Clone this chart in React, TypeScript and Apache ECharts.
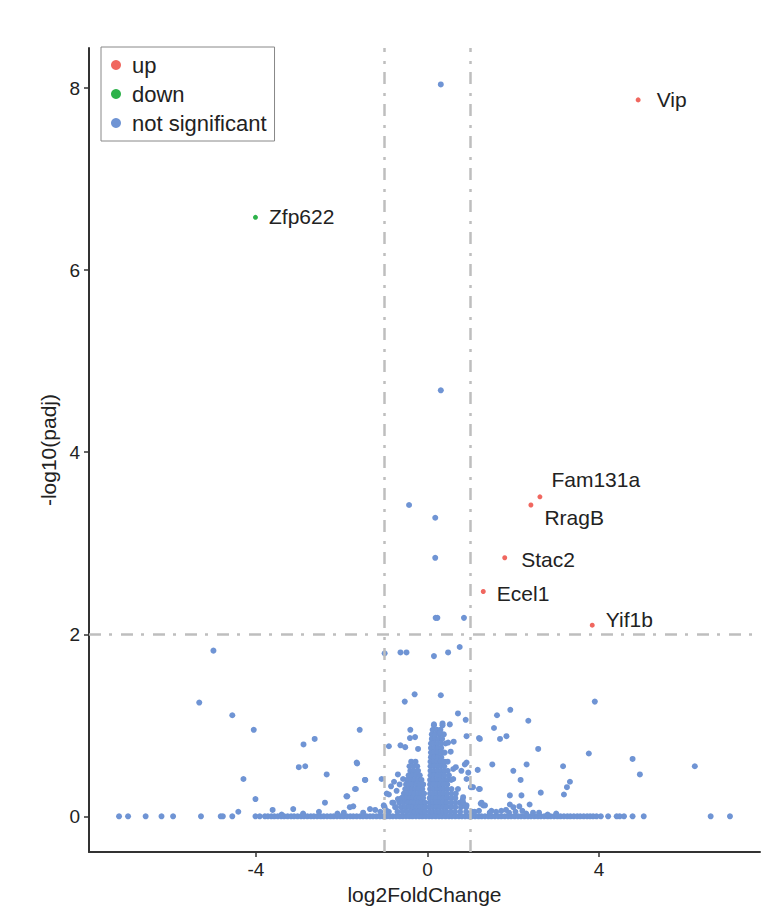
import React, { useEffect, useRef } from 'react';
import * as echarts from 'echarts';

// ---- data ----
const upGenes = ['Vip', 'Fam131a', 'RragB', 'Stac2', 'Ecel1', 'Yif1b'];
const upX = [4.91, 2.62, 2.41, 1.8, 1.3, 3.84];
const upY = [7.87, 3.51, 3.42, 2.84, 2.47, 2.1];

const downGenes = ['Zfp622'];
const downX = [-4.01];
const downY = [6.58];

// scattered not-significant genes [log2FC, -log10(padj)]
const nsScatter: number[][] = [
  [0.31, 8.04], [0.31, 4.68], [-0.43, 3.42], [0.18, 3.28], [0.18, 2.84], [0.19, 2.18], [0.23, 2.18], [0.85, 2.18],
  [-1.0, 1.79], [-0.63, 1.8], [-0.49, 1.8], [0.15, 1.76], [0.48, 1.8], [0.75, 1.86],
  [-4.99, 1.82], [-5.32, 1.25], [-4.55, 1.11], [-4.05, 0.95], [-1.58, 0.95], [-2.89, 0.79], [-2.63, 0.85],
  [-3.0, 0.54], [-2.85, 0.55], [-2.35, 0.46], [-1.65, 0.59], [-1.45, 0.4], [-1.07, 0.41], [-0.9, 0.77],
  [-4.29, 0.41], [-4.01, 0.19], [-4.41, 0.05], [-3.61, 0.07], [-3.13, 0.08], [-2.53, 0.05], [-2.39, 0.15],
  [-1.89, 0.22], [-1.69, 0.3], [-1.73, 0.11], [-0.9, 0.24], [-0.8, 0.15],
  [-0.3, 1.34], [-0.53, 1.26], [0.31, 1.33], [0.71, 1.13], [0.89, 1.06], [1.62, 1.11], [1.93, 1.17], [2.35, 1.05], [3.9, 1.26],
  [-0.4, 0.95], [0.15, 1.01], [0.35, 1.02], [0.52, 1.01], [1.55, 0.97], [1.2, 0.86], [0.91, 0.88], [1.69, 0.85], [1.84, 0.88], [1.22, 0.85],
  [-0.63, 0.78], [-0.52, 0.76], [-0.41, 0.86], [-0.29, 0.87], [-0.22, 0.74], [0.29, 0.92], [0.48, 0.81], [0.61, 0.82], [0.54, 0.71],
  [-1.64, 0.58], [-1.46, 0.4], [-1.67, 0.3], [-1.87, 0.22], [-0.69, 0.46], [-0.57, 0.41], [0.91, 0.59], [0.95, 0.48],
  [1.51, 0.57], [2.0, 0.5], [2.31, 0.57], [2.17, 0.4], [1.92, 0.23], [2.19, 0.23], [1.06, 0.32], [1.26, 0.15],
  [0.6, 0.52], [0.66, 0.54], [0.79, 0.5], [0.87, 0.57], [1.17, 0.51], [1.01, 0.32], [1.2, 0.3], [1.24, 0.14], [1.3, 0.12], [0.8, 0.12],
  [2.58, 0.74], [3.76, 0.69], [4.78, 0.63], [6.23, 0.55], [4.95, 0.46], [3.16, 0.55], [3.32, 0.38], [3.25, 0.32], [3.18, 0.24],
  [2.64, 0.26], [2.38, 0.13], [1.22, 0.3], [1.92, 0.13], [2.0, 0.1], [2.14, 0.11], [2.21, 0.06], [1.34, 0.12],
  [1.49, 0.06], [1.72, 0.06], [1.83, 0.07], [2.46, 0.04],
  [-0.82, 0.15], [-0.69, 0.19], [0.83, 0.15], [0.91, 0.41], [1.03, 0.32], [0.82, 0.18],
  [0.6, 0.41], [0.71, 0.3], [0.83, 0.21], [0.91, 0.12], [1.03, 0.04],
  [-1.02, 0.12], [-0.95, 0.25], [-0.85, 0.33], [-0.78, 0.38], [-0.72, 0.28], [-0.65, 0.35], [-0.75, 0.1], [-0.6, 0.2],
  [-2.1, 0.03], [-1.95, 0.04], [-1.81, 0.1], [-1.5, 0.04], [-1.34, 0.08], [-1.22, 0.07], [-1.1, 0.05], [-1.0, 0.1], [-0.95, 0.06],
  [1.1, 0.05], [1.2, 0.06], [1.45, 0.04], [1.6, 0.05], [1.9, 0.04], [2.05, 0.05], [2.3, 0.03], [2.6, 0.04], [2.8, 0.02],
  [3.0, 0.03], [-2.9, 0.03], [-3.4, 0.02],
];

// genes with padj ~ 1 lying on the zero line
const zeroLineX = [
  -7.19, -6.98, -6.57, -6.2, -5.93, -5.28, -4.82, -4.77, -4.55, -4.01, -3.91,
  -3.79, -3.72, -3.64, -3.57, -3.49, -3.41, -3.34, -3.26, -3.18, -3.11, -3.03, -2.95, -2.88, -2.8, -2.72, -2.65,
  -2.57, -2.49, -2.42, -2.34, -2.26, -2.19, -2.11, -2.03, -1.96, -1.88, -1.8, -1.73, -1.65, -1.57, -1.5, -1.42,
  -1.34, -1.27, -1.19, -1.11, -1.04, -0.96, -0.88, -0.81, -0.73, -0.65, -0.58, -0.5, -0.42, -0.35, -0.27, -0.19,
  -0.12, -0.04, 0.04, 0.11, 0.19, 0.27, 0.34, 0.42, 0.5, 0.57, 0.65, 0.73, 0.8, 0.88, 0.96, 1.03, 1.11, 1.19,
  1.26, 1.34, 1.42, 1.49, 1.57, 1.65, 1.72, 1.8, 1.88, 1.95, 2.03, 2.11, 2.18, 2.26, 2.34, 2.41, 2.49, 2.57,
  2.64, 2.72, 2.8, 2.87, 2.95, 3.03, 3.1, 3.18, 3.26, 3.33, 3.41, 3.49, 3.56, 3.64, 3.72, 3.79, 3.86,
  3.94, 4.04, 4.21, 4.41, 4.48, 4.58, 4.78, 5.04, 6.6, 7.05,
];

// dense column just left of 0: rows of [y, x1, x2, ...]
const leftColumnRows: number[][] = [
  [0.6, -0.38, -0.28],
  [0.55, -0.42, -0.33, -0.24],
  [0.5, -0.4, -0.32, -0.22],
  [0.45, -0.44, -0.36, -0.27, -0.18],
  [0.4, -0.48, -0.38, -0.3, -0.22, -0.14],
  [0.35, -0.5, -0.42, -0.34, -0.26, -0.18, -0.1],
  [0.3, -0.52, -0.44, -0.36, -0.28, -0.2, -0.12],
  [0.25, -0.55, -0.46, -0.38, -0.3, -0.22, -0.14, -0.08],
  [0.2, -0.6, -0.5, -0.42, -0.34, -0.26, -0.18, -0.1],
  [0.15, -0.66, -0.56, -0.46, -0.38, -0.3, -0.22, -0.14, -0.06],
  [0.1, -0.75, -0.62, -0.52, -0.42, -0.34, -0.26, -0.18, -0.1, -0.04],
  [0.05, -0.9, -0.7, -0.58, -0.48, -0.38, -0.3, -0.22, -0.14, -0.06],
];

// dense column just right of 0
const rightColumnRows: number[][] = [
  [1.0, 0.15, 0.35],
  [0.95, 0.12, 0.22, 0.3],
  [0.9, 0.1, 0.18, 0.28, 0.38],
  [0.85, 0.1, 0.18, 0.26, 0.34],
  [0.8, 0.08, 0.16, 0.24, 0.32, 0.42],
  [0.75, 0.08, 0.16, 0.24, 0.32],
  [0.7, 0.08, 0.16, 0.24, 0.32, 0.4],
  [0.65, 0.08, 0.16, 0.24, 0.32],
  [0.6, 0.07, 0.15, 0.23, 0.31, 0.39, 0.47],
  [0.55, 0.07, 0.15, 0.23, 0.31, 0.39],
  [0.5, 0.07, 0.15, 0.23, 0.31, 0.39, 0.47],
  [0.45, 0.07, 0.15, 0.23, 0.31, 0.39, 0.5],
  [0.4, 0.06, 0.14, 0.22, 0.3, 0.38, 0.46, 0.55],
  [0.35, 0.06, 0.14, 0.22, 0.3, 0.38, 0.46],
  [0.3, 0.06, 0.14, 0.22, 0.3, 0.38, 0.46, 0.56],
  [0.25, 0.06, 0.14, 0.22, 0.3, 0.38, 0.46, 0.56, 0.66],
  [0.2, 0.05, 0.13, 0.21, 0.29, 0.37, 0.45, 0.55, 0.65],
  [0.15, 0.05, 0.13, 0.21, 0.29, 0.37, 0.45, 0.55, 0.65, 0.75],
  [0.1, 0.05, 0.13, 0.21, 0.29, 0.37, 0.45, 0.55, 0.65, 0.78, 0.9],
  [0.05, 0.04, 0.12, 0.2, 0.28, 0.36, 0.44, 0.54, 0.64, 0.76, 0.9, 1.05],
];

const xTicks = [-4, 0, 4];
const yTicks = [0, 2, 4, 6, 8];
const fcCutoff = [-1, 1];
const padjCutoff = 2;

// ---- styles ----
const FONT = '"Liberation Sans", Arial, Helvetica, sans-serif';
const RED = '#F0675F';
const GREEN = '#2DB24A';
const BLUE = '#6F94D4';

const labelOffsets: Record<string, number[]> = {
  Vip: [5, 0],
  Fam131a: [-2, -17],
  RragB: [0, 13],
  Stac2: [3, 2],
  Ecel1: [0, 2],
  Yif1b: [0, -6],
  Zfp622: [0, -1],
};

function rowsToPoints(rows: number[][]) {
  const out: number[][] = [];
  rows.forEach((r) => {
    for (let i = 1; i < r.length; i++) out.push([r[i], r[0]]);
  });
  return out;
}

function labelled(names: string[], xs: number[], ys: number[]) {
  return names.map((n, i) => ({
    name: n,
    value: [xs[i], ys[i]],
    label: { offset: labelOffsets[n] || [0, 0] },
  }));
}

export default function App() {
  const ref = useRef<HTMLDivElement>(null);
  useEffect(() => {
    if (!ref.current) return;
    const chart = echarts.init(ref.current, null, { renderer: 'svg' });
    const nsData = [
      ...zeroLineX.map((x) => [x, 0]),
      ...rowsToPoints(leftColumnRows),
      ...rowsToPoints(rightColumnRows),
      ...nsScatter,
    ];
    const geneLabel = {
      show: true,
      position: 'right',
      distance: 11,
      formatter: '{b}',
      fontSize: 21,
      color: '#222',
      fontFamily: FONT,
    };
    const option: any = {
      animation: false,
      backgroundColor: '#fff',
      textStyle: { fontFamily: FONT },
      grid: { left: 89, right: 24, top: 48, bottom: 49, containLabel: false },
      legend: {
        data: ['up', 'down', 'not significant'],
        orient: 'vertical',
        left: 101,
        top: 47,
        padding: [7, 8, 7, 10],
        itemGap: 7,
        itemWidth: 10,
        itemHeight: 10,
        icon: 'circle',
        borderColor: '#888',
        borderWidth: 1,
        selectedMode: false,
        textStyle: { fontSize: 22, color: '#222', fontFamily: FONT, padding: [0, 0, 0, 6] },
      },
      xAxis: {
        type: 'value',
        min: -7.89,
        max: 7.75,
        name: 'log2FoldChange',
        nameLocation: 'middle',
        nameGap: 28,
        nameTextStyle: { fontSize: 21, color: '#222', fontFamily: FONT },
        axisLine: { onZero: false, lineStyle: { color: '#333', width: 2 } },
        axisTick: { show: true, length: 5, customValues: xTicks, lineStyle: { color: '#333', width: 1.5 } },
        axisLabel: { customValues: xTicks, fontSize: 19, color: '#222', margin: 8, fontFamily: FONT },
        splitLine: { show: false },
      },
      yAxis: {
        type: 'value',
        min: -0.393,
        max: 8.44,
        name: '-log10(padj)',
        nameLocation: 'middle',
        nameGap: 15,
        nameRotate: 90,
        nameTextStyle: { fontSize: 21, color: '#222', fontFamily: FONT },
        axisLine: { show: true, onZero: false, lineStyle: { color: '#333', width: 2 } },
        axisTick: { show: true, length: 5, customValues: yTicks, lineStyle: { color: '#333', width: 1.5 } },
        axisLabel: { customValues: yTicks, fontSize: 19, color: '#222', margin: 9, fontFamily: FONT },
        splitLine: { show: false },
      },
      series: [
        {
          name: 'cutoffs',
          type: 'scatter',
          data: [],
          silent: true,
          z: 1,
          markLine: {
            silent: true,
            symbol: 'none',
            label: { show: false },
            animation: false,
            lineStyle: { color: '#BEBEBE', width: 2.5, type: [12, 8, 3, 9] },
            data: [
              { xAxis: fcCutoff[0] },
              { xAxis: fcCutoff[1] },
              { yAxis: padjCutoff },
            ],
          },
        },
        {
          name: 'not significant',
          type: 'scatter',
          symbol: 'circle',
          symbolSize: 6,
          itemStyle: { color: BLUE, opacity: 1 },
          emphasis: { disabled: true },
          z: 2,
          data: nsData,
        },
        {
          name: 'up',
          type: 'scatter',
          symbol: 'circle',
          symbolSize: 5,
          itemStyle: { color: RED, opacity: 1 },
          emphasis: { disabled: true },
          z: 3,
          label: geneLabel,
          data: labelled(upGenes, upX, upY),
        },
        {
          name: 'down',
          type: 'scatter',
          symbol: 'circle',
          symbolSize: 5,
          itemStyle: { color: GREEN, opacity: 1 },
          emphasis: { disabled: true },
          z: 3,
          label: geneLabel,
          data: labelled(downGenes, downX, downY),
        },
      ],
    };
    chart.setOption(option);
    return () => chart.dispose();
  }, []);
  return (
    <div
      ref={ref}
      style={{ position: 'absolute', left: 0, top: 0, width: 784, height: 910, background: '#fff' }}
    />
  );
}
